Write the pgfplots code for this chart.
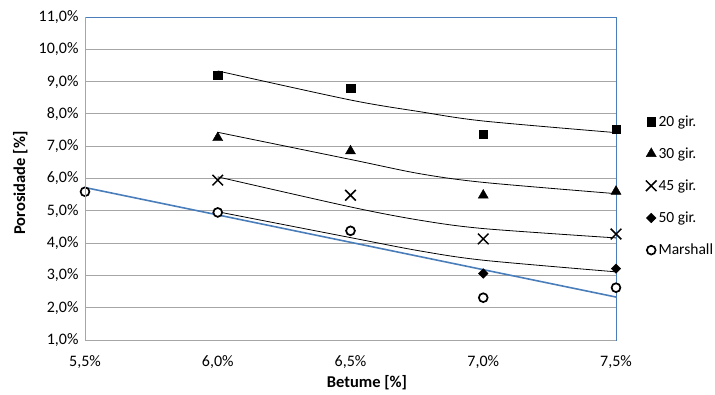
\documentclass[border=0pt]{standalone}
\usepackage{fontspec}
\setmainfont{Carlito}
\usepackage{pgfplots}
\pgfplotsset{compat=1.18}
\definecolor{trendblue}{HTML}{4A7EBB}
\definecolor{gridgray}{HTML}{A6A6A6}
\begin{document}
\begin{tikzpicture}[font=\fontsize{16bp}{19bp}\selectfont]
\begin{axis}[
  name=ax,
  scale only axis, width=531bp, height=323bp,
  xmin=5.5, xmax=7.5, ymin=1, ymax=11,
  xtick={5.5,6,6.5,7,7.5},
  xticklabels={{5,5\%},{6,0\%},{6,5\%},{7,0\%},{7,5\%}},
  ytick={1,2,3,4,5,6,7,8,9,10,11},
  yticklabels={{1,0\%},{2,0\%},{3,0\%},{4,0\%},{5,0\%},{6,0\%},{7,0\%},{8,0\%},{9,0\%},{10,0\%},{11,0\%}},
  tick label style={font=\fontsize{16bp}{19bp}\selectfont},
  xticklabel style={yshift=-12.5bp},
  yticklabel style={xshift=-3bp},
  ymajorgrids,
  major grid style={gridgray, line width=0.9pt},
  axis line style={trendblue, line width=0.6pt},
  tick style={draw=none},
  xlabel={\textbf{Betume [\%]}},
  ylabel={\textbf{Porosidade [\%]}},
  label style={font=\fontsize{16.5bp}{19bp}\selectfont},
  xlabel style={at={(axis description cs:0.531,-0.133)}, anchor=center},
  ylabel style={at={(axis description cs:-0.122,0.486)}, anchor=center},
  clip=false,
  legend style={at={(axis description cs:1.056,0.702)}, anchor=north west, draw=none, fill=none,
    row sep=16bp, inner sep=0pt, font=\fontsize{15.5bp}{18bp}\selectfont},
  legend cell align=left,
  legend image code/.code={\draw plot coordinates {(0.18cm,0cm)};},
]
% trend lines
\addplot[black, line width=0.8pt, smooth, forget plot] coordinates {(6.0,9.33) (6.5,8.43) (6.76,8.07) (7.0,7.78) (7.5,7.42)};
\addplot[black, line width=0.8pt, smooth, forget plot] coordinates {(6.0,7.43) (6.5,6.59) (6.76,6.15) (7.0,5.88) (7.5,5.53)};
\addplot[black, line width=0.8pt, smooth, forget plot] coordinates {(6.0,6.05) (6.5,5.12) (6.76,4.71) (7.0,4.45) (7.5,4.16)};
\addplot[black, line width=0.8pt, smooth, forget plot] coordinates {(6.0,4.97) (6.5,4.17) (6.76,3.76) (7.0,3.47) (7.5,3.11)};
\addplot[trendblue, line width=1.6pt, forget plot] coordinates {(5.5,5.72) (7.5,2.33)};
% data
\addplot[only marks, mark=square*, mark size=4.2bp, black] coordinates {(6.0,9.20) (6.5,8.80) (7.0,7.38) (7.5,7.53)};
\addlegendentry{20 gir.}
\addplot[only marks, mark=triangle*, mark size=5.8bp, black] coordinates {(6.0,7.26) (6.5,6.85) (7.0,5.48) (7.5,5.60)};
\addlegendentry{30 gir.}
\addplot[only marks, mark=x, mark size=7.5bp, black, mark options={line width=1.5pt}] coordinates {(6.0,5.95) (6.5,5.48) (7.0,4.13) (7.5,4.28)};
\addlegendentry{45 gir.}
\addplot[only marks, mark=square*, mark size=3.4bp, black, mark options={rotate=45}] coordinates {(6.0,4.95) (6.5,4.38) (7.0,3.06) (7.5,3.21)};
\addlegendentry{50 gir.}
\addplot[only marks, mark=*, mark size=4.4bp, black, mark options={fill=white, line width=1.7pt}] coordinates {(5.5,5.59) (6.0,4.95) (6.5,4.38) (7.0,2.31) (7.5,2.62)};
\addlegendentry{Marshall}
\end{axis}
\draw[gridgray, line width=0.9pt] (ax.south west) -- (ax.north west);
\draw[gridgray, line width=0.9pt] (ax.south west) -- (ax.south east);
\pgfresetboundingbox
\path (ax.south west) ++(-85bp,-55bp) rectangle ++(715bp,395bp);
\end{tikzpicture}
\end{document}
